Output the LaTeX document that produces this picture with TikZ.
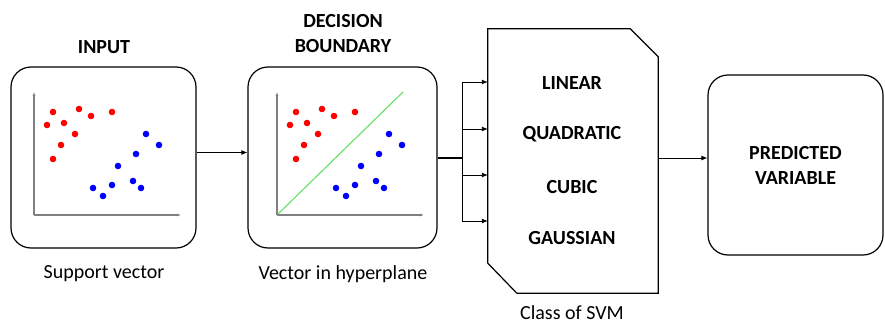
\documentclass[tikz,border=0pt]{standalone}
\usepackage{fontspec}
\setmainfont{Carlito}
\usetikzlibrary{arrows.meta}
\definecolor{hyper}{RGB}{110,225,110}
\begin{document}
\begin{tikzpicture}
[
    x=1pt, y=-1pt,
    panel/.style={draw, line width=1.2pt, rounded corners=20pt, minimum width=#1, minimum height=181pt, inner sep=0pt},
    panel/.default=185pt,
    lbl/.style={font=\fontsize{20}{25}\selectfont\bfseries, inner sep=0pt, align=center},
    caption/.style={font=\fontsize{20}{25}\selectfont, inner sep=0pt},
    arr/.style={-{Latex[length=6pt,width=5pt]}, line width=0.9pt},
    axis/.style={draw=gray, line width=1.2pt, -{Latex[length=4pt,width=3pt]}}
]
    \useasboundingbox (0,0) rectangle (885,324);

    % panels
    \node (in) [panel] at (103.5,157.5) {};
    \node (db) [panel=189pt] at (342.5,157.5) {};
    \node (pred) [panel=175pt, minimum height=180pt, lbl] at (795.5,165) {PREDICTED\\VARIABLE};

    \node (inT) [lbl] at (104,47) {INPUT};
    \node (dbT) [lbl] at (343,33.5) {DECISION\\BOUNDARY};
    \node (inC) [caption] at (104,274) {Support vector};
    \node (dbC) [caption] at (343,274) {Vector in hyperplane};

    % scatter plots
    \foreach \ox in {34,277} {
        \begin{scope}[shift={(\ox,215)}]
            \draw[axis] (0,0) -- (0,-123);
            \draw[axis] (0,0) -- (147,0);
            \foreach \p in {(19,-103),(45,-106),(57,-99),(78,-103),(13,-90),(30,-92),(41,-81),(27,-70),(19,-56)}
                \fill[red] \p circle (3.3pt);
            \foreach \p in {(112,-81),(125,-70),(102,-61),(84,-49),(99,-34),(107,-27),(78,-30),(59,-27),(69,-19)}
                \fill[blue] \p circle (3.3pt);
        \end{scope}
    }
    \draw[hyper, line width=1.2pt] (278,214) -- (403,92);

    % class of SVM
    \node (svm) [minimum width=170pt, minimum height=264pt, inner sep=0pt] at (573,161) {};
    \draw[line width=1.2pt] (svm.north west) -- ([xshift=-28pt]svm.north east)
        -- ([yshift=-28pt]svm.north east) -- (svm.south east)
        -- ([xshift=29pt]svm.south west) -- ([yshift=30pt]svm.south west) -- cycle;
    \node (lin) [lbl] at (572,83) {LINEAR};
    \node (quad) [lbl] at (572,134) {QUADRATIC};
    \node (cub) [lbl] at (572,187) {CUBIC};
    \node (gau) [lbl] at (572,238) {GAUSSIAN};
    \node (svmC) [caption] at (572,313) {Class of SVM};

    % connectors
    \coordinate (split) at (462,157.5);
    \draw[arr] ([yshift=5pt]in.east) -- ([yshift=5pt]in.east -| db.west);
    \draw[line width=2pt] (db.east) -- (split);
    \foreach \y in {82,129,175,221}
        \draw[arr] (split) |- (svm.west |- 0,\y);
    \draw[arr] ([yshift=3pt]svm.east) -- ([yshift=3pt]svm.east -| pred.west);
\end{tikzpicture}
\end{document}
